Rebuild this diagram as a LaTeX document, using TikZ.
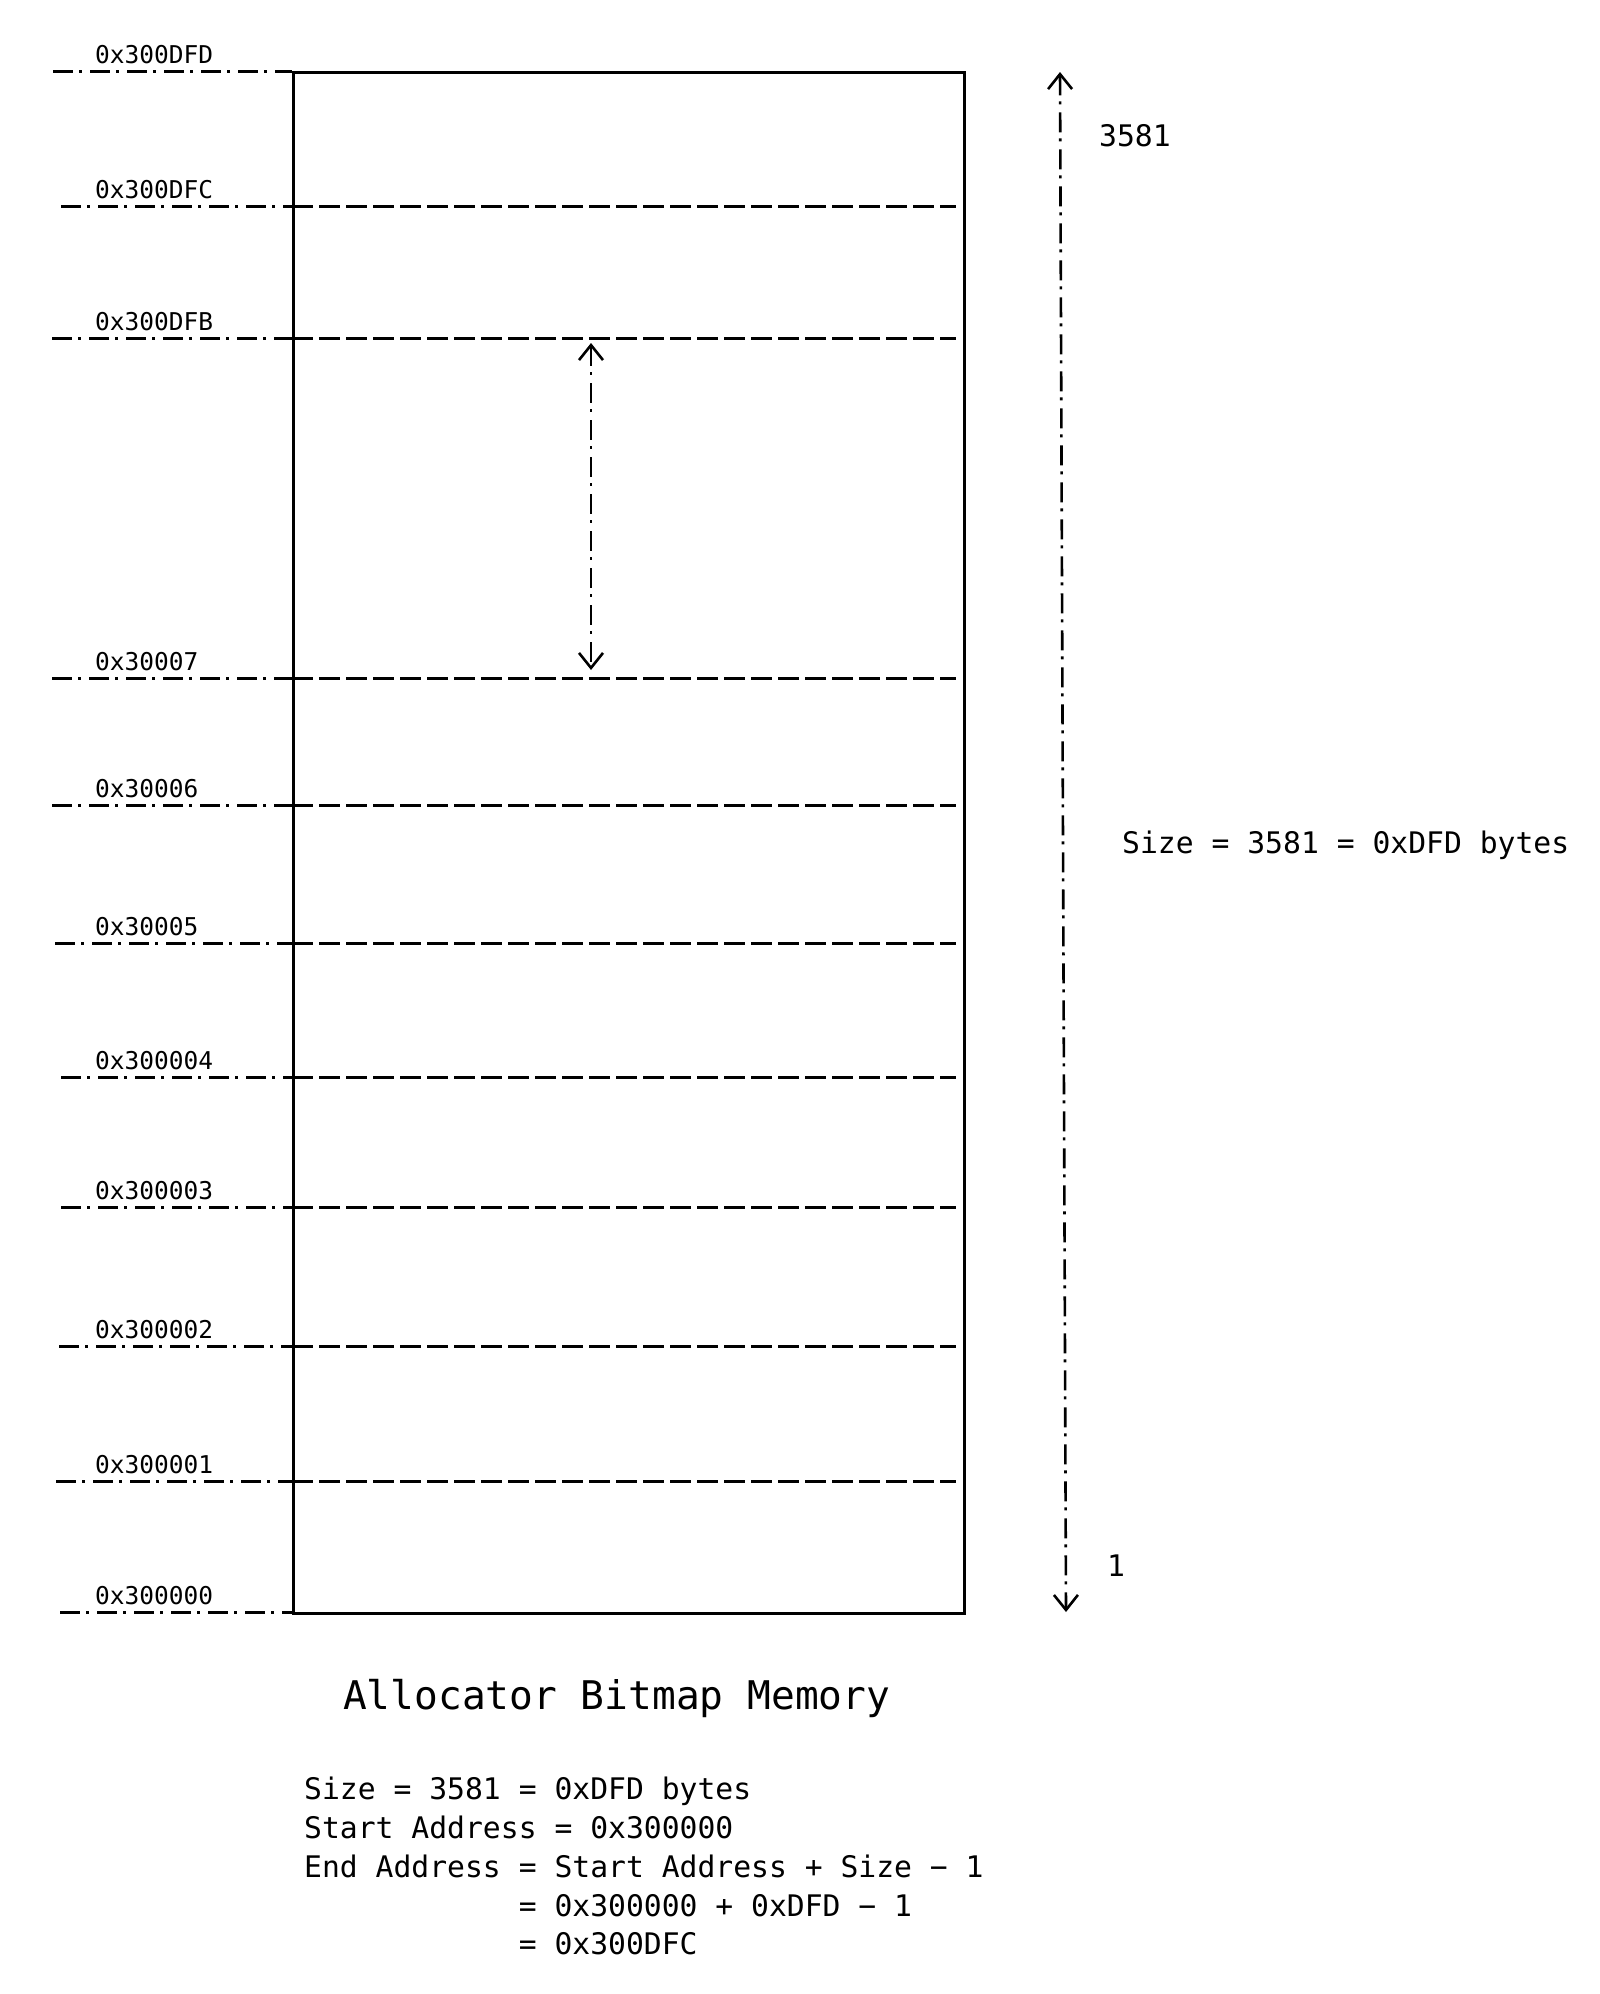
\documentclass[tikz,border=0pt]{standalone}
\usepackage{fontspec}
\newfontfamily\dmono{DejaVu Sans Mono}
\usetikzlibrary{arrows.meta}
\begin{document}
\begin{tikzpicture}[x=1pt,y=-1pt,
  membox/.style={draw, line width=3.2pt, inner sep=0pt, minimum width=671pt, minimum height=1541pt, anchor=north west},
  dashdotline/.style={line width=3pt, dash pattern=on 20pt off 6pt on 3pt off 8pt},
  dashline/.style={line width=3pt, dash pattern=on 21pt off 6pt},
  dimarrow/.style={line width=2.6pt, dash pattern=on 20pt off 6pt on 3pt off 8pt,
     {Straight Barb[length=15pt,width=24pt,line width=2.6pt]}-{Straight Barb[length=15pt,width=24pt,line width=2.6pt]}},
  addr/.style={font=\dmono\fontsize{24.5}{29}\selectfont, anchor=base west, inner sep=0pt},
  txt/.style={font=\dmono\fontsize{29.7}{36}\selectfont, anchor=base west, inner sep=0pt},
  ttl/.style={font=\dmono\fontsize{39.5}{46}\selectfont, anchor=base west, inner sep=0pt}]
\useasboundingbox (0,0) rectangle (1600,1994);

% memory box
\node[membox] (mem) at (292,71) {};

% address lines: y / left start x / label / name
\foreach \yy/\xs/\lab/\nm/\inside in {
   71/53/0x300DFD/a/0,
  206/61/0x300DFC/b/1,
  338/52/0x300DFB/c/1,
  678/52/0x30007/d/1,
  805/52/0x30006/e/1,
  943/55/0x30005/f/1,
 1077/61/0x300004/g/1,
 1207/61/0x300003/h/1,
 1346/59/0x300002/i/1,
 1481/56/0x300001/j/1,
 1612/60/0x300000/k/0}{
  \coordinate (s\nm) at (\xs,\yy);
  \coordinate (m\nm) at (292,\yy);
  \coordinate (e\nm) at (956,\yy);
  \node[addr] (lab\nm) at (95,\yy-8) {\lab};
  \draw[dashdotline] (s\nm) -- (m\nm);
  \ifnum\inside=1
    \draw[dashline] (m\nm) -- (e\nm);
  \fi
}

% small dimension arrow
\coordinate (sa1) at (591,343);
\coordinate (sa2) at (591,670);
\draw[dimarrow] (sa1) -- (sa2);

% big dimension arrow
\coordinate (ba1) at (1060,72);
\coordinate (ba2) at (1066,1612);
\draw[dimarrow] (ba1) -- (ba2);

\node[txt] (n3581) at (1099,146) {3581};
\node[txt] (n1) at (1107,1576) {1};
\node[txt] (sizeR) at (1122,853) {Size = 3581 = 0xDFD bytes};

% title and explanation
\node[ttl] (title) at (343,1709) {Allocator Bitmap Memory};
\node[txt] (l1) at (304,1799) {Size = 3581 = 0xDFD bytes};
\node[txt] (l2) at (304,1838) {Start Address = 0x300000};
\node[txt] (l3) at (304,1877) {End Address = Start Address + Size − 1};
\node[txt] (l4) at (304,1916) {\phantom{End Address} = 0x300000 + 0xDFD − 1};
\node[txt] (l5) at (304,1954) {\phantom{End Address} = 0x300DFC};
\end{tikzpicture}
\end{document}
